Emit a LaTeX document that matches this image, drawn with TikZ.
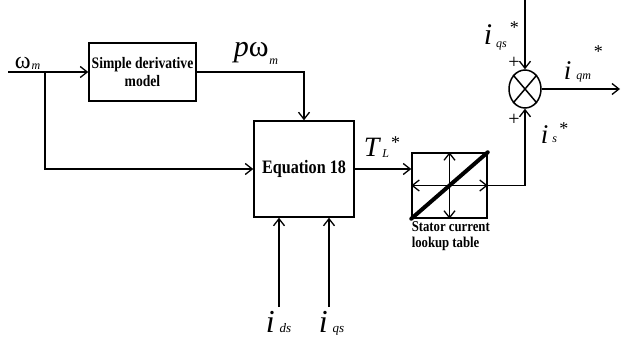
\documentclass[tikz,border=0pt]{standalone}
\usepackage{fontspec}
\setmainfont{Liberation Serif}
\newfontfamily\condb[FakeStretch=0.85]{Liberation Serif}
\usetikzlibrary{arrows.meta,shapes.geometric}
\newcommand{\fsz}[1]{\fontsize{#1}{#1}\selectfont}
\begin{document}
\begin{tikzpicture}[x=1pt,y=-1pt,
  line width=1.5pt,
  arr/.style={-{Straight Barb[length=7pt,width=11pt,line width=1.3pt]}},
  darr/.style={{Straight Barb[length=7pt,width=11pt,line width=1.3pt]}-{Straight Barb[length=7pt,width=11pt,line width=1.3pt]}},
  blk/.style={draw,rectangle,inner sep=0pt,align=center,font=\condb\bfseries},
  lab/.style={inner sep=0pt,anchor=base west},
]
\useasboundingbox (0,0) rectangle (621,345);

% blocks
\node[blk,minimum width=107pt,minimum height=58pt,font=\condb\bfseries\fsz{16}] (der) at (142.5,72) {Simple derivative\\[2pt]model};
\node[blk,minimum width=100pt,minimum height=96pt,font=\condb\bfseries\fsz{19}] (eq) at (304,169) {Equation 18};
\node[blk,minimum width=75pt,minimum height=65pt] (lut) at (449.5,185.5) {};
\node[draw,ellipse,minimum width=32pt,minimum height=38pt,inner sep=0pt] (sum) at (525,89) {};

% lookup-table interior
\draw[darr] (lut.west) -- (lut.east);
\draw[darr] (lut.south) -- (lut.north);
\draw[line width=4pt,line cap=round] (lut.south west) -- (lut.north east);
% summing junction cross
\draw (sum.north west) -- (sum.south east);
\draw (sum.north east) -- (sum.south west);

% free ends
\coordinate (win) at (8,72);
\coordinate (br) at (45,72);
\coordinate (ids) at (279,307);
\coordinate (iqs) at (329,307);
\coordinate (top) at (525,0);
\coordinate (out) at (620,89);

% connectors
\draw[arr] (win) -- (der.west);
\draw[arr] (br) |- (eq.west);
\draw[arr] (der.east) -| (eq.north);
\draw[arr] (ids) -- (ids |- eq.south);
\draw[arr] (iqs) -- (iqs |- eq.south);
\draw[arr] (eq.east) -- (eq.east -| lut.west);
\draw[arr] (lut.east) -| (sum.south);
\draw[arr] (top) -- (sum.north);
\draw[arr] (sum.east) -- (out);

% labels
\node[lab] (lw) at (14,69) {\fsz{24}ω\hspace{1pt}\raisebox{-1pt}{\fsz{12}\itshape m}};
\node[lab] (lpw) at (233,57) {\fsz{30}\itshape p\upshape ω\hspace{1pt}\raisebox{-8pt}{\fsz{12}\itshape m}};
\node[lab] (ltl) at (363,156) {\fsz{28}\itshape T\hspace{3pt}\raisebox{-1pt}{\fsz{12}\itshape L}\hspace{2pt}\raisebox{8pt}{\fsz{18}\upshape *}};
\node[lab] (lids) at (265,332) {\fsz{32}\itshape i\hspace{5pt}{\fsz{13}ds}};
\node[lab] (liqs) at (318,332) {\fsz{32}\itshape i\hspace{5pt}{\fsz{13}qs}};
\node[lab] (liqsr) at (483,45) {\fsz{30}\itshape i\hspace{4pt}\raisebox{-3pt}{\fsz{12}qs}\hspace{3pt}\raisebox{11pt}{\fsz{18}\upshape *}};
\node[lab] (liqm) at (563,80) {\fsz{27}\itshape i\hspace{5pt}{\fsz{12}qm}\hspace{3pt}\raisebox{22.5pt}{\fsz{18}\upshape *}};
\node[lab] (lis) at (540,143) {\fsz{27}\itshape i\hspace{4pt}\raisebox{1pt}{\fsz{12}s}\hspace{2.5pt}\raisebox{8.5pt}{\fsz{18}\upshape *}};
\node[inner sep=0pt,font=\fsz{20}] (p1) at (514,63) {+};
\node[inner sep=0pt,font=\fsz{20}] (p2) at (514,120) {+};
\node[inner sep=0pt,anchor=north west,align=left,font=\condb\bfseries\fsz{15}] (ltxt) at (411,221) {Stator current\\[1pt]lookup table};
\end{tikzpicture}
\end{document}
